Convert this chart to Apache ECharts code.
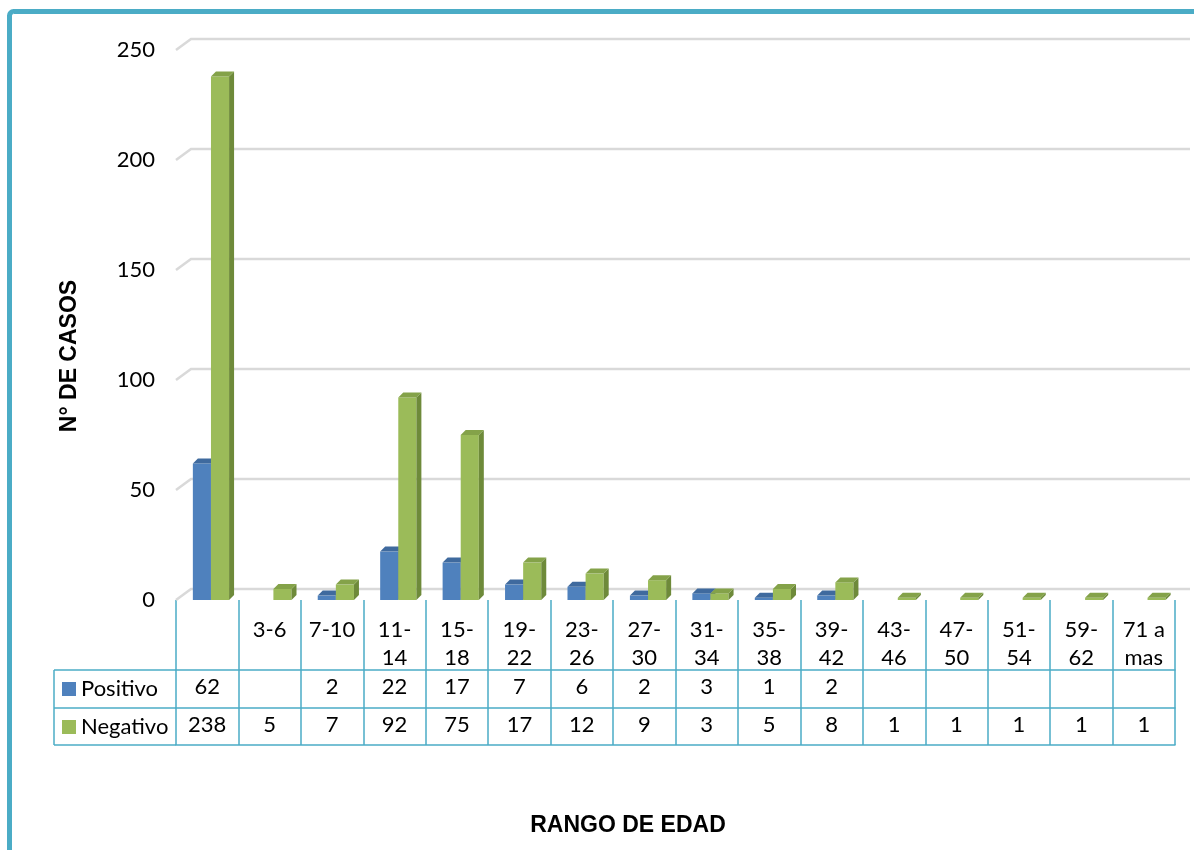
<!DOCTYPE html>
<html>
<head>
<meta charset="utf-8">
<script src="https://cdn.jsdelivr.net/npm/echarts@6/dist/echarts.min.js"></script>
<style>
html,body{margin:0;padding:0;background:#fff;}
#chart{width:1194px;height:850px;}
</style>
</head>
<body>
<div id="chart"></div>
<script>
var categories = ["", "3-6", "7-10", "11-14", "15-18", "19-22", "23-26", "27-30", "31-34", "35-38", "39-42", "43-46", "47-50", "51-54", "59-62", "71 a mas"];
var positivo = [62, null, 2, 22, 17, 7, 6, 2, 3, 1, 2, null, null, null, null, null];
var negativo = [238, 5, 7, 92, 75, 17, 12, 9, 3, 5, 8, 1, 1, 1, 1, 1];
var yTicks = [0, 50, 100, 150, 200, 250];
var seriesNames = ["Positivo", "Negativo"];

var FONT = "Lato";
var TEAL = "#4BACC6";
var colors = [
  {front: "#4F81BD", side: "#385D8A", top: "#3F6A9E"},
  {front: "#9BBB59", side: "#6E8A3A", top: "#84A249"}
];

function barRender(idx) {
  return function (params, api) {
    var v = api.value(1);
    if (v == null || isNaN(v)) return;
    var c = api.value(0);
    var top = api.coord([c, v]);
    var base = api.coord([c, 0]);
    var band = api.size([1, 0])[0];
    var w = band * 0.29;
    var x0 = top[0] - band * 0.23 + idx * w;
    var x1 = x0 + w;
    var dx = 5, dy = -5;
    var col = colors[idx];
    return {
      type: "group",
      children: [
        {type: "rect", shape: {x: x0, y: top[1], width: w, height: base[1] - top[1]}, style: {fill: col.front}},
        {type: "polygon", shape: {points: [[x1, top[1]], [x1 + dx, top[1] + dy], [x1 + dx, base[1] + dy], [x1, base[1]]]}, style: {fill: col.side}},
        {type: "polygon", shape: {points: [[x0, top[1]], [x0 + dx, top[1] + dy], [x1 + dx, top[1] + dy], [x1, top[1]]]}, style: {fill: col.top}}
      ]
    };
  };
}

function gridRender(params, api) {
  var p = api.coord([0, api.value(1)]);
  var cs = params.coordSys;
  var y = p[1];
  var x0 = cs.x, x1 = cs.x + cs.width;
  return {
    type: "polyline",
    shape: {points: [[x0, y], [x0 + 15, y - 11], [x1 + 15, y - 11]]},
    style: {stroke: "#D9D9D9", lineWidth: 2.5, fill: null}
  };
}

function headerFmt(s) {
  if (s.length > 4) {
    var i = Math.max(s.lastIndexOf("-"), s.lastIndexOf(" "));
    if (s.charAt(i) === "-") return s.slice(0, i + 1) + "\n" + s.slice(i + 1);
    return s.slice(0, i) + "\n" + s.slice(i + 1);
  }
  return s;
}

function rowLabels(arr) {
  return arr.map(function (v) { return v == null ? "" : String(v); });
}

var chart = echarts.init(document.getElementById("chart"));
var option = {
  backgroundColor: "#fff",
  animation: false,
  grid: {left: 176, right: 19, top: 50, bottom: 250},
  legend: {
    orient: "vertical", left: 57, top: 671,
    padding: 5,
    itemWidth: 14, itemHeight: 14, itemGap: 12,
    icon: "rect",
    textStyle: {fontFamily: FONT, fontSize: 22, color: "#000", lineHeight: 26},
    data: seriesNames,
    selectedMode: false
  },
  xAxis: [
    {
      type: "category", data: categories, position: "bottom",
      axisLine: {show: false},
      axisTick: {show: true, interval: 0, length: 145, lineStyle: {color: TEAL, width: 1.5}},
      axisLabel: {interval: 0, fontFamily: FONT, fontSize: 22, color: "#000", lineHeight: 28, margin: 16, verticalAlign: "top", formatter: headerFmt},
      splitLine: {show: false}
    },
    {
      type: "category", data: rowLabels(positivo), position: "bottom", offset: 70,
      axisLine: {show: true, lineStyle: {color: TEAL, width: 1.5}},
      axisTick: {show: false},
      axisLabel: {interval: 0, fontFamily: FONT, fontSize: 22, color: "#000", margin: 6}
    },
    {
      type: "category", data: rowLabels(negativo), position: "bottom", offset: 108,
      axisLine: {show: true, lineStyle: {color: TEAL, width: 1.5}},
      axisTick: {show: false},
      axisLabel: {interval: 0, fontFamily: FONT, fontSize: 22, color: "#000", margin: 6}
    },
    {
      type: "category", data: categories, position: "bottom", offset: 145,
      axisLine: {show: true, lineStyle: {color: TEAL, width: 1.5}},
      axisTick: {show: false},
      axisLabel: {show: false}
    }
  ],
  yAxis: {
    type: "value", min: 0, max: 250, interval: 50,
    axisLine: {show: false}, axisTick: {show: false},
    splitLine: {show: false},
    axisLabel: {fontFamily: FONT, fontSize: 22, color: "#000", margin: 21}
  },
  series: [
    {
      type: "custom", name: "__grid", renderItem: gridRender, z: 1, silent: true,
      data: yTicks.map(function (v) { return [0, v]; }),
      encode: {x: 0, y: 1}
    },
    {
      type: "custom", name: seriesNames[0], renderItem: barRender(0), z: 2,
      itemStyle: {color: colors[0].front},
      data: positivo.map(function (v, i) { return [i, v]; }),
      encode: {x: 0, y: 1}
    },
    {
      type: "custom", name: seriesNames[1], renderItem: barRender(1), z: 3,
      itemStyle: {color: colors[1].front},
      data: negativo.map(function (v, i) { return [i, v]; }),
      encode: {x: 0, y: 1}
    }
  ],
  graphic: [
    {type: "rect", shape: {x: 9.5, y: 11.5, width: 1400, height: 1000, r: 4}, style: {fill: null, stroke: TEAL, lineWidth: 5}, z: 10},
    {type: "line", shape: {x1: 54, y1: 670, x2: 176, y2: 670}, style: {stroke: TEAL, lineWidth: 1.5}},
    {type: "line", shape: {x1: 54, y1: 708, x2: 176, y2: 708}, style: {stroke: TEAL, lineWidth: 1.5}},
    {type: "line", shape: {x1: 54, y1: 745, x2: 176, y2: 745}, style: {stroke: TEAL, lineWidth: 1.5}},
    {type: "line", shape: {x1: 54, y1: 670, x2: 54, y2: 745}, style: {stroke: TEAL, lineWidth: 1.5}},
    {type: "text", x: 70, y: 356, rotation: Math.PI / 2, style: {text: "N° DE CASOS", fontFamily: "Liberation Sans", fontWeight: "bold", fontSize: 23, fill: "#000", textAlign: "center", textVerticalAlign: "middle"}},
    {type: "text", x: 628, y: 826, style: {text: "RANGO DE EDAD", fontFamily: "Liberation Sans", fontWeight: "bold", fontSize: 23, fill: "#000", textAlign: "center", textVerticalAlign: "middle"}}
  ]
};
chart.setOption(option);
</script>
</body>
</html>
